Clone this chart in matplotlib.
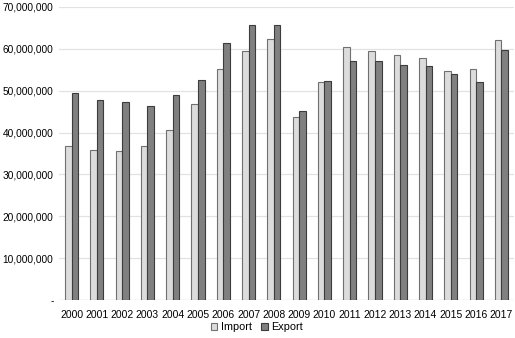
import matplotlib
matplotlib.use("Agg")
import matplotlib.pyplot as plt
import numpy as np
from matplotlib.ticker import FuncFormatter

years = [str(y) for y in range(2000, 2018)]
imports = [36.9, 35.9, 35.6, 36.8, 40.7, 46.9, 55.2, 59.6, 62.4, 43.7,
           52.0, 60.5, 59.5, 58.5, 57.9, 54.6, 55.1, 62.1]
exports = [49.5, 47.9, 47.3, 46.3, 48.9, 52.5, 61.5, 65.8, 65.6, 45.1,
           52.4, 57.0, 57.0, 56.1, 55.9, 53.9, 52.0, 59.7]
imports = [v * 1e6 for v in imports]
exports = [v * 1e6 for v in exports]

plt.rcParams['font.family'] = ['Liberation Sans', 'DejaVu Sans']

fig = plt.figure(figsize=(5.15, 3.38), dpi=100)
ax = fig.add_axes([59/515, 38/338, 455/515, 293/338])

x = np.arange(len(years))
w = 0.26
ax.bar(x - w/2, imports, w, color='#dcdcdc', edgecolor='#707070', linewidth=0.8,
       label='Import', zorder=3)
ax.bar(x + w/2, exports, w, color='#808080', edgecolor='#3c3c3c', linewidth=0.8,
       label='Export', zorder=3)

ax.set_xlim(-0.5, len(years) - 0.5)
ax.set_ylim(0, 70e6)
ax.set_yticks(np.arange(0, 70e6 + 1, 10e6))
ax.yaxis.set_major_formatter(FuncFormatter(lambda v, p: '-' if v == 0 else f'{int(v):,}'))
ax.set_xticks(x)
ax.set_xticklabels(years)
ax.tick_params(axis='both', length=0, colors='#000000')
ax.tick_params(axis='y', pad=4, labelsize=7.3)
ax.tick_params(axis='x', pad=7.5, labelsize=7.5)
ax.grid(axis='y', color='#e2e2e2', linewidth=0.9, zorder=0)
for s in ax.spines.values():
    s.set_visible(False)
ax.axhline(0, color='#d8d8d8', linewidth=0.9, zorder=2)

ax.legend(loc='center', bbox_to_anchor=(0.435, -0.092), ncol=2, frameon=False,
          fontsize=7.8, handlelength=0.6, handleheight=0.6, handletextpad=0.3,
          columnspacing=0.9, borderaxespad=0, borderpad=0)

fig.savefig('out.png', dpi=100)
